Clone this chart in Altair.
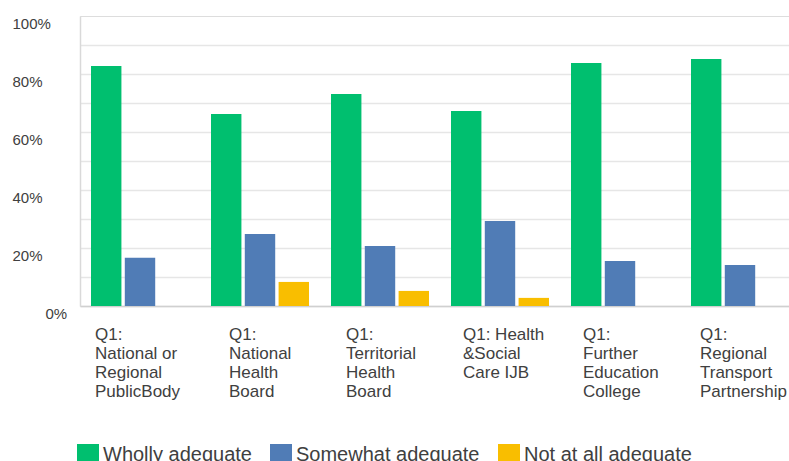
import altair as alt
import pandas as pd

categories = [
    "Q1:|National or|Regional|PublicBody",
    "Q1:|National|Health|Board",
    "Q1:|Territorial|Health|Board",
    "Q1: Health|&Social|Care IJB",
    "Q1:|Further|Education|College",
    "Q1:|Regional|Transport|Partnership",
]
series = ["Wholly adequate", "Somewhat adequate", "Not at all adequate"]
wholly = [0.828, 0.662, 0.731, 0.672, 0.838, 0.852]
somewhat = [0.166, 0.248, 0.207, 0.293, 0.155, 0.141]
not_at_all = [None, 0.083, 0.052, 0.028, None, None]
colors = ["#00BF6F", "#507CB6", "#F9BE00"]
y_ticks = [0, 0.1, 0.2, 0.3, 0.4, 0.5, 0.6, 0.7, 0.8, 0.9, 1.0]

rows = []
for i, c in enumerate(categories):
    for s, vals in zip(series, [wholly, somewhat, not_at_all]):
        if vals[i] is not None:
            rows.append({"category": c, "series": s, "value": vals[i]})
df = pd.DataFrame(rows)

FONT = "Liberation Sans"

# per-label horizontal shift so each left-aligned block sits centred under its group
label_shift = {
    "condition": [
        {"test": "indexof(datum.value, 'PublicBody') >= 0", "value": -45},
        {"test": "indexof(datum.value, 'National|') >= 0", "value": -31},
        {"test": "indexof(datum.value, 'Territorial') >= 0", "value": -34},
        {"test": "indexof(datum.value, 'Partnership') >= 0", "value": -40},
    ],
    "value": -37,
}

chart = alt.Chart(df).mark_bar().encode(
    x=alt.X(
        "category:N",
        sort=categories,
        title=None,
        scale=alt.Scale(range=[0, 720], paddingInner=0.1833, paddingOuter=0.0917),
        axis=alt.Axis(
            labelExpr="split(datum.label, '|')",
            labelAngle=0,
            labelAlign="left",
            labelBaseline="top",
            labelOffset=label_shift,
            labelPadding=20,
            labelFont=FONT,
            labelFontSize=17,
            labelLineHeight=19,
            labelColor="#404040",
            ticks=False,
            domainColor="#d0d0d0",
            domainWidth=1.5,
            labelLimit=0,
        ),
    ),
    xOffset=alt.XOffset(
        "series:N",
        sort=series,
        scale=alt.Scale(paddingInner=0.1, paddingOuter=0),
    ),
    y=alt.Y(
        "value:Q",
        title=None,
        scale=alt.Scale(domain=[0, 1], nice=False),
        axis=alt.Axis(
            values=y_ticks,
            labelExpr="round(datum.value*10) % 2 == 0 ? format(datum.value, '.0%') : ''",
            format=".0%",
            labelAlign="left",
            labelBaseline="middle",
            labelOffset=7,
            labelPadding={"condition": {"test": "datum.value == 0", "value": 35}, "value": 68},
            labelFont=FONT,
            labelFontSize=15,
            labelColor="#404040",
            ticks=False,
            domainColor="#d9d9d9",
            domainWidth=1.5,
            gridColor={"condition": {"test": "datum.value >= 1", "value": "transparent"}, "value": "#e6e6e6"},
            gridWidth=1.5,
        ),
    ),
    color=alt.Color(
        "series:N",
        sort=series,
        scale=alt.Scale(domain=series, range=colors),
        legend=alt.Legend(
            title=None,
            orient="none",
            legendX=-3,
            legendY=428,
            direction="horizontal",
            symbolType="square",
            symbolSize=484,
            symbolStrokeWidth=0,
            symbolOpacity=1,
            labelFont=FONT,
            labelFontSize=20,
            labelColor="#404040",
            labelOffset=4,
            columnPadding=18,
            padding=0,
            labelLimit=0,
        ),
    ),
).properties(
    width=709,
    height=290,
    autosize=alt.AutoSizeParams(type="none"),
    padding={"left": 80, "top": 16, "right": 0, "bottom": 155},
).configure_view(stroke=None).configure(background="white")

chart.save("out.html", embed_options={"renderer": "svg", "actions": False})
